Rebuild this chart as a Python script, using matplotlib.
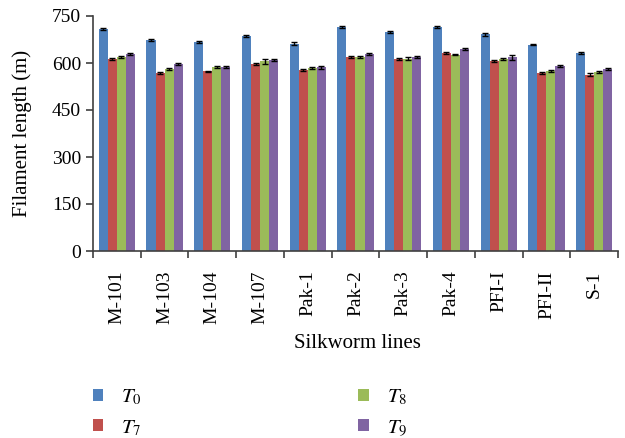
import numpy as np
import matplotlib
matplotlib.use("Agg")
import matplotlib.pyplot as plt

# Data
lines = ["M-101", "M-103", "M-104", "M-107", "Pak-1", "Pak-2",
         "Pak-3", "Pak-4", "PFI-I", "PFI-II", "S-1"]
t0 = [708, 673, 668, 686, 662, 714, 699, 716, 691, 659, 632]
t7 = [614, 569, 573, 597, 578, 619, 612, 631, 605, 568, 563]
t8 = [619, 581, 588, 605, 583, 619, 613, 627, 613, 574, 571]
t9 = [629, 597, 587, 610, 586, 629, 619, 645, 619, 590, 581]
t0_err = [3, 3, 3, 3, 5, 3, 4, 3, 5, 3, 3]
t7_err = [3, 3, 3, 3, 3, 3, 3, 3, 3, 3, 6]
t8_err = [3, 3, 3, 8, 3, 3, 5, 3, 4, 3, 3]
t9_err = [3, 3, 3, 4, 4, 3, 3, 3, 8, 3, 3]

series = [("$T_0$", t0, t0_err, "#4F81BD"),
          ("$T_7$", t7, t7_err, "#C0504D"),
          ("$T_8$", t8, t8_err, "#9BBB59"),
          ("$T_9$", t9, t9_err, "#8064A2")]

plt.rcParams["font.family"] = ["Liberation Serif", "DejaVu Serif"]
plt.rcParams["mathtext.fontset"] = "stix"

fig = plt.figure(figsize=(6.25, 4.38), dpi=100)
ax = fig.add_axes([93 / 625, 1 - 251 / 438, 525 / 625, 235 / 438])

x = np.arange(len(lines))
w = 0.19
for i, (name, vals, err, col) in enumerate(series):
    ax.bar(x + (i - 1.5) * w, vals, w, color=col, label=name,
           yerr=err, error_kw=dict(ecolor="black", elinewidth=1, capsize=2, capthick=1))

ax.set_xlim(-0.5, len(lines) - 0.5)
ax.set_ylim(0, 750)
ax.set_yticks([0, 150, 300, 450, 600, 750])
ax.set_xticks(np.arange(len(lines) + 1) - 0.5, minor=False)
ax.set_xticklabels([])
ax.set_xticks(x, minor=True)
ax.set_xticklabels(lines, minor=True, rotation=90, fontsize=14)
ax.tick_params(axis="x", which="minor", length=0, pad=14)
ax.tick_params(axis="x", which="major", length=5, width=1.2, color="#404040")
ax.tick_params(axis="y", length=5, width=1.2, color="#404040", labelsize=14)

for s in ["top", "right"]:
    ax.spines[s].set_visible(False)
for s in ["left", "bottom"]:
    ax.spines[s].set_color("#404040")
    ax.spines[s].set_linewidth(1.2)

ax.set_ylabel("Filament length (m)", fontsize=15, labelpad=14)
fig.text(357 / 625, 1 - 344 / 438, "Silkworm lines", fontsize=15, ha="center", va="center")

fig.legend(loc="upper left", bbox_to_anchor=(93 / 625, 1 - 388 / 438), ncol=2,
           frameon=False, fontsize=15, handlelength=0.5, handleheight=0.5,
           handletextpad=0.85, columnspacing=10.4, labelspacing=0.5,
           borderpad=0, borderaxespad=0)

fig.savefig("out.png", dpi=100)
